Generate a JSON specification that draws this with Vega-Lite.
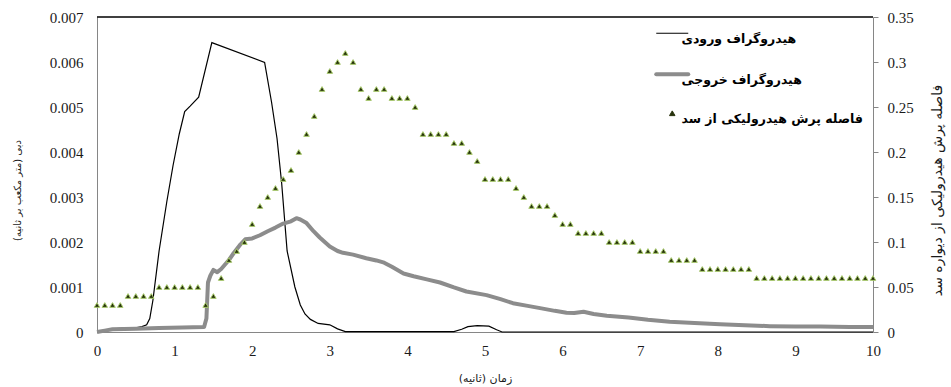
{
  "$schema": "https://vega.github.io/schema/vega-lite/v6.json",
  "width": 776,
  "height": 315,
  "autosize": {"type": "none"},
  "padding": {"left": 97, "top": 17, "right": 78, "bottom": 55},
  "background": "white",
  "config": {
    "view": {"stroke": null},
    "axis": {
      "grid": false,
      "labelFont": "Liberation Serif",
      "labelFontSize": 15,
      "labelColor": "#1a1a1a",
      "domainColor": "#868686",
      "tickColor": "#868686",
      "titleFont": "DejaVu Sans",
      "titleFontSize": 11,
      "titleFontWeight": "normal",
      "titleColor": "#1a1a1a"
    },
    "legend": {
      "orient": "none",
      "legendX": 569,
      "legendY": 10,
      "padding": 0,
      "rowPadding": 20,
      "labelOffset": 3,
      "labelLimit": 300,
      "labelFont": "DejaVu Sans",
      "labelFontSize": 12.5,
      "labelFontWeight": "bold",
      "labelColor": "#000000",
      "labelAlign": "left",
      "labelBaseline": "top",
      "symbolType": "stroke",
      "symbolSize": 1024,
      "symbolStrokeWidth": 1.2
    }
  },
  "datasets": {
    "inflow": [
      {"t": 0, "q": 0}, {"t": 0.1, "q": 0.00002}, {"t": 0.2, "q": 0.00007}, {"t": 0.3, "q": 0.00008},
      {"t": 0.5, "q": 0.00009}, {"t": 0.58, "q": 0.00012}, {"t": 0.64, "q": 0.00016}, {"t": 0.68, "q": 0.0003},
      {"t": 0.72, "q": 0.0007}, {"t": 0.8, "q": 0.0018}, {"t": 0.9, "q": 0.0029}, {"t": 0.98, "q": 0.0037},
      {"t": 1.06, "q": 0.0044}, {"t": 1.13, "q": 0.0049}, {"t": 1.2, "q": 0.00502}, {"t": 1.31, "q": 0.00522},
      {"t": 1.48, "q": 0.00643}, {"t": 2.16, "q": 0.00599}, {"t": 2.25, "q": 0.0051}, {"t": 2.32, "q": 0.0043},
      {"t": 2.38, "q": 0.0033}, {"t": 2.45, "q": 0.0018}, {"t": 2.55, "q": 0.001}, {"t": 2.62, "q": 0.0006},
      {"t": 2.68, "q": 0.0004}, {"t": 2.75, "q": 0.00028}, {"t": 2.85, "q": 0.00019}, {"t": 3.0, "q": 0.00016},
      {"t": 3.1, "q": 0.00007}, {"t": 3.2, "q": 0.00001}, {"t": 3.6, "q": 0.00001}, {"t": 4.0, "q": 0.00001},
      {"t": 4.6, "q": 0.00001}, {"t": 4.7, "q": 0.00006}, {"t": 4.78, "q": 0.00012}, {"t": 4.9, "q": 0.00014},
      {"t": 5.05, "q": 0.00013}, {"t": 5.15, "q": 0.00005}, {"t": 5.22, "q": 0}, {"t": 10, "q": 0}
    ],
    "outflow": [
      {"t": 0, "q": 0}, {"t": 0.1, "q": 0.00003}, {"t": 0.2, "q": 0.00006}, {"t": 0.5, "q": 0.00007},
      {"t": 0.8, "q": 0.00009}, {"t": 1.1, "q": 0.0001}, {"t": 1.38, "q": 0.00011}, {"t": 1.41, "q": 0.0003},
      {"t": 1.43, "q": 0.0011}, {"t": 1.46, "q": 0.00125}, {"t": 1.5, "q": 0.00138}, {"t": 1.55, "q": 0.00133},
      {"t": 1.6, "q": 0.0014}, {"t": 1.7, "q": 0.0016}, {"t": 1.76, "q": 0.00175}, {"t": 1.85, "q": 0.00195},
      {"t": 1.91, "q": 0.00206}, {"t": 2.0, "q": 0.00208}, {"t": 2.1, "q": 0.00215}, {"t": 2.2, "q": 0.00224},
      {"t": 2.3, "q": 0.00232}, {"t": 2.4, "q": 0.00241}, {"t": 2.5, "q": 0.00246}, {"t": 2.57, "q": 0.00253},
      {"t": 2.62, "q": 0.0025}, {"t": 2.7, "q": 0.00242}, {"t": 2.79, "q": 0.00224}, {"t": 2.87, "q": 0.0021},
      {"t": 3.0, "q": 0.0019}, {"t": 3.1, "q": 0.0018}, {"t": 3.17, "q": 0.00176}, {"t": 3.3, "q": 0.00172},
      {"t": 3.47, "q": 0.00164}, {"t": 3.6, "q": 0.00159}, {"t": 3.7, "q": 0.00154}, {"t": 3.8, "q": 0.00145},
      {"t": 3.95, "q": 0.0013}, {"t": 4.08, "q": 0.00124}, {"t": 4.25, "q": 0.00117}, {"t": 4.42, "q": 0.0011},
      {"t": 4.6, "q": 0.00099}, {"t": 4.76, "q": 0.0009}, {"t": 5.02, "q": 0.00082}, {"t": 5.2, "q": 0.00073},
      {"t": 5.36, "q": 0.00064}, {"t": 5.55, "q": 0.00058}, {"t": 5.71, "q": 0.00053}, {"t": 5.9, "q": 0.00047},
      {"t": 6.05, "q": 0.00043}, {"t": 6.15, "q": 0.00042}, {"t": 6.27, "q": 0.00045}, {"t": 6.4, "q": 0.0004},
      {"t": 6.57, "q": 0.00036}, {"t": 6.85, "q": 0.00032}, {"t": 7.1, "q": 0.00027}, {"t": 7.38, "q": 0.00023},
      {"t": 7.7, "q": 0.0002}, {"t": 8.03, "q": 0.00017}, {"t": 8.35, "q": 0.00015}, {"t": 8.67, "q": 0.00013},
      {"t": 9.0, "q": 0.00012}, {"t": 9.32, "q": 0.00012}, {"t": 9.7, "q": 0.00011}, {"t": 10.0, "q": 0.00011}
    ],
    "jump": [
      {"t": 0.0, "d": 0.03}, {"t": 0.1, "d": 0.03}, {"t": 0.2, "d": 0.03}, {"t": 0.3, "d": 0.03},
      {"t": 0.4, "d": 0.04}, {"t": 0.5, "d": 0.04}, {"t": 0.6, "d": 0.04}, {"t": 0.7, "d": 0.04},
      {"t": 0.8, "d": 0.05}, {"t": 0.9, "d": 0.05}, {"t": 1.0, "d": 0.05}, {"t": 1.1, "d": 0.05},
      {"t": 1.2, "d": 0.05}, {"t": 1.3, "d": 0.05}, {"t": 1.4, "d": 0.03}, {"t": 1.5, "d": 0.04},
      {"t": 1.6, "d": 0.06}, {"t": 1.7, "d": 0.08}, {"t": 1.8, "d": 0.09}, {"t": 1.9, "d": 0.1},
      {"t": 2.0, "d": 0.12}, {"t": 2.1, "d": 0.14}, {"t": 2.2, "d": 0.15}, {"t": 2.3, "d": 0.16},
      {"t": 2.4, "d": 0.17}, {"t": 2.5, "d": 0.18}, {"t": 2.6, "d": 0.2}, {"t": 2.7, "d": 0.22},
      {"t": 2.8, "d": 0.24}, {"t": 2.9, "d": 0.27}, {"t": 3.0, "d": 0.29}, {"t": 3.1, "d": 0.3},
      {"t": 3.2, "d": 0.31}, {"t": 3.3, "d": 0.3}, {"t": 3.4, "d": 0.27}, {"t": 3.5, "d": 0.26},
      {"t": 3.6, "d": 0.27}, {"t": 3.7, "d": 0.27}, {"t": 3.8, "d": 0.26}, {"t": 3.9, "d": 0.26},
      {"t": 4.0, "d": 0.26}, {"t": 4.1, "d": 0.25}, {"t": 4.2, "d": 0.22}, {"t": 4.3, "d": 0.22},
      {"t": 4.4, "d": 0.22}, {"t": 4.5, "d": 0.22}, {"t": 4.6, "d": 0.21}, {"t": 4.7, "d": 0.21},
      {"t": 4.8, "d": 0.2}, {"t": 4.9, "d": 0.19}, {"t": 5.0, "d": 0.17}, {"t": 5.1, "d": 0.17},
      {"t": 5.2, "d": 0.17}, {"t": 5.3, "d": 0.17}, {"t": 5.4, "d": 0.16}, {"t": 5.5, "d": 0.15},
      {"t": 5.6, "d": 0.14}, {"t": 5.7, "d": 0.14}, {"t": 5.8, "d": 0.14}, {"t": 5.9, "d": 0.13},
      {"t": 6.0, "d": 0.12}, {"t": 6.1, "d": 0.12}, {"t": 6.2, "d": 0.11}, {"t": 6.3, "d": 0.11},
      {"t": 6.4, "d": 0.11}, {"t": 6.5, "d": 0.11}, {"t": 6.6, "d": 0.1}, {"t": 6.7, "d": 0.1},
      {"t": 6.8, "d": 0.1}, {"t": 6.9, "d": 0.1}, {"t": 7.0, "d": 0.09}, {"t": 7.1, "d": 0.09},
      {"t": 7.2, "d": 0.09}, {"t": 7.3, "d": 0.09}, {"t": 7.4, "d": 0.08}, {"t": 7.5, "d": 0.08},
      {"t": 7.6, "d": 0.08}, {"t": 7.7, "d": 0.08}, {"t": 7.8, "d": 0.07}, {"t": 7.9, "d": 0.07},
      {"t": 8.0, "d": 0.07}, {"t": 8.1, "d": 0.07}, {"t": 8.2, "d": 0.07}, {"t": 8.3, "d": 0.07},
      {"t": 8.4, "d": 0.07}, {"t": 8.5, "d": 0.06}, {"t": 8.6, "d": 0.06}, {"t": 8.7, "d": 0.06},
      {"t": 8.8, "d": 0.06}, {"t": 8.9, "d": 0.06}, {"t": 9.0, "d": 0.06}, {"t": 9.1, "d": 0.06},
      {"t": 9.2, "d": 0.06}, {"t": 9.3, "d": 0.06}, {"t": 9.4, "d": 0.06}, {"t": 9.5, "d": 0.06},
      {"t": 9.6, "d": 0.06}, {"t": 9.7, "d": 0.06}, {"t": 9.8, "d": 0.06}, {"t": 9.9, "d": 0.06},
      {"t": 10.0, "d": 0.06}
    ]
  },
  "layer": [
    {
      "layer": [
        {
          "data": {"name": "inflow"},
          "mark": {"type": "line", "strokeWidth": 1.2},
          "encoding": {
            "x": {
              "field": "t", "type": "quantitative",
              "scale": {"domain": [0, 10]},
              "axis": {
                "title": "زمان (ثانیه)\u200f",
                "values": [0, 1, 2, 3, 4, 5, 6, 7, 8, 9, 10],
                "format": "d",
                "labelFlush": false,
                "ticks": false,
                "labelPadding": 11,
                "domainColor": "#868686",
                "titleX": 388,
                "titleY": 46,
                "titleBaseline": "middle",
                "titleAlign": "center"
              }
            },
            "y": {
              "field": "q", "type": "quantitative",
              "scale": {"domain": [0, 0.007]},
              "axis": {
                "title": "دبی (متر مکعب بر ثانیه)\u200f",
                "values": [0, 0.001, 0.002, 0.003, 0.004, 0.005, 0.006, 0.007],
                "format": ".3~f",
                "ticks": false,
                "labelPadding": 14,
                "titleFontSize": 10,
                "titleAngle": -90,
                "titleX": -80,
                "titleY": 173,
                "titleBaseline": "middle",
                "titleAlign": "center"
              }
            },
            "color": {
              "datum": "هیدروگراف ورودی",
              "type": "nominal",
              "scale": {
                "domain": ["هیدروگراف ورودی", "هیدروگراف خروجی", "فاصله پرش هیدرولیکی از سد"],
                "range": ["#000000", "#8c8c8c", "#27320c"]
              },
              "legend": {
                "title": null,
                "labelExpr": "'\u200e' + datum.label",
                "encode": {
                  "symbols": {
                    "update": {
                      "shape": {"signal": "datum.index === 2 ? 'triangle-up' : 'stroke'"},
                      "size": {"signal": "datum.index === 2 ? 30 : 1024"},
                      "strokeWidth": {"signal": "datum.index === 1 ? 4 : datum.index === 0 ? 1.2 : 1"},
                      "strokeCap": {"signal": "datum.index === 1 ? 'round' : 'butt'"},
                      "fill": {"signal": "datum.index === 2 ? '#27320c' : 'transparent'"},
                      "stroke": {"signal": "datum.index === 0 ? '#000000' : datum.index === 1 ? '#8c8c8c' : '#a6c86a'"},
                      "opacity": {"value": 1}
                    }
                  }
                }
              }
            }
          }
        },
        {
          "data": {"name": "outflow"},
          "mark": {"type": "line", "strokeWidth": 4, "strokeJoin": "round"},
          "encoding": {
            "x": {"field": "t", "type": "quantitative"},
            "y": {"field": "q", "type": "quantitative"},
            "color": {"datum": "هیدروگراف خروجی", "type": "nominal"}
          }
        },
        {
          "data": {"values": [{}]},
          "mark": {"type": "rule", "color": "#000000", "strokeWidth": 1.5},
          "encoding": {"y": {"datum": 0.007, "type": "quantitative"}}
        }
      ]
    },
    {
      "data": {"name": "jump"},
      "mark": {"type": "point", "shape": "triangle-up", "filled": true, "size": 30, "stroke": "#a6c86a", "strokeWidth": 1, "opacity": 1},
      "encoding": {
        "x": {"field": "t", "type": "quantitative"},
        "y": {
          "field": "d", "type": "quantitative",
          "scale": {"domain": [0, 0.35]},
          "axis": {
            "orient": "right",
            "title": "فاصله پرش هیدرولیکی از دیواره سد",
            "values": [0, 0.05, 0.1, 0.15, 0.2, 0.25, 0.3, 0.35],
            "format": ".2~f",
            "tickSize": 5,
            "labelPadding": 9,
            "titleFontSize": 14,
            "titleAngle": -90,
            "titleX": 64,
            "titleY": 173,
            "titleBaseline": "middle",
            "titleAlign": "center"
          }
        },
        "color": {"datum": "فاصله پرش هیدرولیکی از سد", "type": "nominal"}
      }
    }
  ],
  "resolve": {"scale": {"y": "independent"}}
}
